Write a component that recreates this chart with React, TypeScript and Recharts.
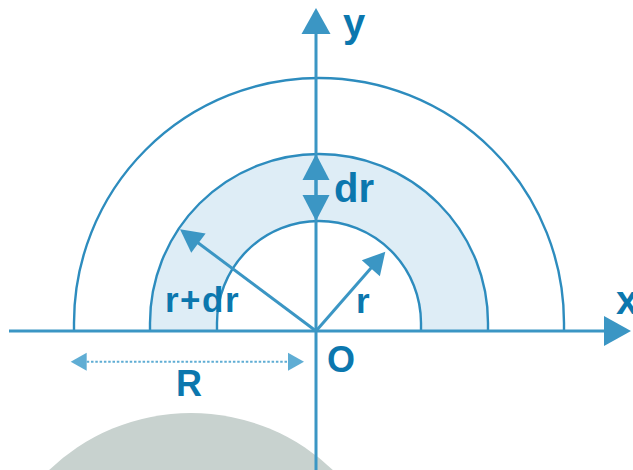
import React from "react"
import { ScatterChart, Scatter, XAxis, YAxis, ReferenceArea, ReferenceLine } from "recharts"

// one data unit = one pixel, origin O at the crossing of the axes
const xDomain: [number, number] = [-316, 317]
const yDomain: [number, number] = [-139, 331]

// rings are centred a little above / right of O (as drawn in the source figure)
const ringCenter = { x: 3, y: 8 }
const ringRadii = [102, 169, 245] // r, r+dr, R
const shadedBand = { inner: 102, outer: 169 }

const grayDisc = { x: -125, y: -287, r: 205 }

type ArrowRow = { name: string; from: [number, number]; to: [number, number] }
const arrows: ArrowRow[] = [
  { name: "xAxis", from: [-307, 0], to: [315, 0] },
  { name: "yAxis", from: [0, -139], to: [0, 323] },
  { name: "dr", from: [0, 110], to: [0, 177] },
  { name: "r+dr", from: [0, 0], to: [-136, 101.7] },
  { name: "r", from: [0, 0], to: [69.3, 79.3] },
  { name: "R", from: [-245.3, -30.7], to: [-12, -30.7] },
]

type LabelRow = { text: string; x: number; y: number }
const labels: LabelRow[] = [
  { text: "y", x: 27, y: 294 },
  { text: "dr", x: 18, y: 129.3 },
  { text: "r+dr", x: -151, y: 19 },
  { text: "r", x: 40, y: 18 },
  { text: "O", x: 11, y: -41 },
  { text: "R", x: -140, y: -65 },
  { text: "x", x: 300, y: 17 },
]

const LINE = "#3b96c4"
const ARC = "#2d8cbe"
const TEXT = "#0b77ae"
const BAND = "#deedf6"
const DOTTED = "#5fadd4"
const GRAY = "#c8d2cf"

const arrowStyle: Record<string, { head: number; half: number; both?: boolean; width: number; color: string; dash?: string }> = {
  xAxis: { head: 27, half: 15, width: 3, color: LINE },
  yAxis: { head: 26, half: 14.5, width: 3, color: LINE },
  dr: { head: 26, half: 13.5, both: true, width: 3, color: LINE },
  "r+dr": { head: 23, half: 12, width: 3, color: LINE },
  r: { head: 22, half: 12, width: 3, color: LINE },
  R: { head: 16, half: 9, both: true, width: 2, color: DOTTED, dash: "2.5 1.8" },
}

const labelStyle: Record<string, { size: number; spacing?: number }> = {
  y: { size: 40 },
  dr: { size: 40 },
  "r+dr": { size: 35, spacing: 1.5 },
  r: { size: 35 },
  O: { size: 36 },
  R: { size: 36 },
  x: { size: 40 },
}

const makeArrow = (name: string) => (p: any) => {
  const s = arrowStyle[name]
  const { x1, y1, x2, y2 } = p
  const len = Math.hypot(x2 - x1, y2 - y1) || 1
  const ux = (x2 - x1) / len
  const uy = (y2 - y1) / len
  const head = (tx: number, ty: number, dx: number, dy: number) => {
    const bx = tx - dx * s.head
    const by = ty - dy * s.head
    return `${tx},${ty} ${bx - dy * s.half},${by + dx * s.half} ${bx + dy * s.half},${by - dx * s.half}`
  }
  const sx = s.both ? x1 + ux * s.head : x1
  const sy = s.both ? y1 + uy * s.head : y1
  const ex = x2 - ux * (s.head - 1)
  const ey = y2 - uy * (s.head - 1)
  return (
    <g>
      <line x1={sx} y1={sy} x2={ex} y2={ey} stroke={s.color} strokeWidth={s.width} strokeDasharray={s.dash} />
      <polygon points={head(x2, y2, ux, uy)} fill={s.color} />
      {s.both && <polygon points={head(x1, y1, -ux, -uy)} fill={s.color} />}
    </g>
  )
}

// arc of a ring: half circle plus the short legs down to the x axis
const makeRing = (rho: number) => (p: any) => {
  const { x, y, width, height } = p
  const rx = width / 2
  const ry = (height * rho) / (rho + ringCenter.y)
  const cy = y + ry
  const base = y + height
  const d = `M${x},${base} L${x},${cy} A${rx},${ry} 0 0 1 ${x + width},${cy} L${x + width},${base}`
  return <path d={d} fill="none" stroke={ARC} strokeWidth={2.4} />
}

const bandShape = (p: any) => {
  const { x, y, width, height } = p
  const rx = width / 2
  const ry = (height * shadedBand.outer) / (shadedBand.outer + ringCenter.y)
  const cx = x + rx
  const cy = y + ry
  const base = y + height
  const k = shadedBand.inner / shadedBand.outer
  const irx = rx * k
  const iry = ry * k
  const d =
    `M${x},${base} L${x},${cy} A${rx},${ry} 0 0 1 ${x + width},${cy} L${x + width},${base} ` +
    `L${cx + irx},${base} L${cx + irx},${cy} A${irx},${iry} 0 0 0 ${cx - irx},${cy} L${cx - irx},${base} Z`
  return <path d={d} fill={BAND} stroke="none" />
}

const discShape = (p: any) => {
  const { x, y, width, height } = p
  return <ellipse cx={x + width / 2} cy={y + height / 2} rx={width / 2} ry={height / 2} fill={GRAY} />
}

const LabelText = (p: any) => {
  const { cx, cy, payload } = p
  const s = labelStyle[payload.text]
  return (
    <text
      x={cx}
      y={cy}
      fill={TEXT}
      fontSize={s.size}
      fontWeight={700}
      fontFamily="'Liberation Sans', Arial, sans-serif"
      letterSpacing={s.spacing}
    >
      {payload.text}
    </text>
  )
}

export default function App() {
  return (
    <div style={{ position: "absolute", left: 0, top: 0, width: 633, height: 470, background: "#fff" }}>
      <ScatterChart width={633} height={470} margin={{ top: 0, right: 0, bottom: 0, left: 0 }}>
        <XAxis type="number" dataKey="x" domain={xDomain} hide allowDataOverflow />
        <YAxis type="number" dataKey="y" domain={yDomain} hide allowDataOverflow />

        <ReferenceArea
          x1={grayDisc.x - grayDisc.r}
          x2={grayDisc.x + grayDisc.r}
          y1={grayDisc.y - grayDisc.r}
          y2={grayDisc.y + grayDisc.r}
          ifOverflow="visible"
          shape={discShape}
        />
        <ReferenceArea
          x1={ringCenter.x - shadedBand.outer}
          x2={ringCenter.x + shadedBand.outer}
          y1={0}
          y2={ringCenter.y + shadedBand.outer}
          ifOverflow="visible"
          shape={bandShape}
        />
        {ringRadii.map((rho) => (
          <ReferenceArea
            key={rho}
            x1={ringCenter.x - rho}
            x2={ringCenter.x + rho}
            y1={0}
            y2={ringCenter.y + rho}
            ifOverflow="visible"
            shape={makeRing(rho)}
          />
        ))}

        {arrows.map((a) => (
          <ReferenceLine
            key={a.name}
            segment={[
              { x: a.from[0], y: a.from[1] },
              { x: a.to[0], y: a.to[1] },
            ]}
            ifOverflow="visible"
            shape={makeArrow(a.name)}
          />
        ))}

        <Scatter data={labels} shape={LabelText} isAnimationActive={false} />
      </ScatterChart>
    </div>
  )
}
